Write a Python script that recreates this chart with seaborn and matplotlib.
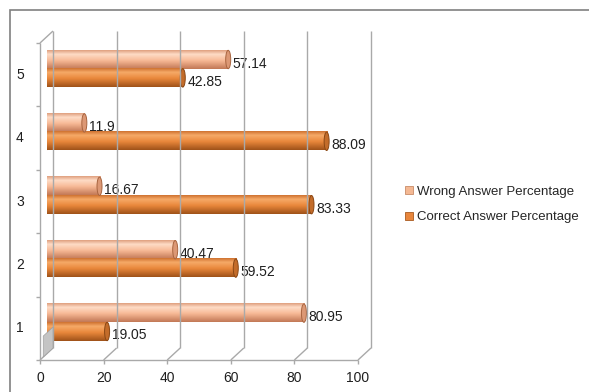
import numpy as np
import pandas as pd
import matplotlib
matplotlib.use("Agg")
import matplotlib.pyplot as plt
import seaborn as sns
from matplotlib.colors import LinearSegmentedColormap
from matplotlib.lines import Line2D
from matplotlib.patches import Ellipse, Patch, Polygon, Rectangle
from matplotlib.transforms import IdentityTransform

# ---- data -------------------------------------------------------------
questions = ["1", "2", "3", "4", "5"]
wrong_pct = [80.95, 40.47, 16.67, 11.9, 57.14]
correct_pct = [19.05, 59.52, 83.33, 88.09, 42.85]
series_names = ["Wrong Answer Percentage", "Correct Answer Percentage"]
x_ticks = [0, 20, 40, 60, 80, 100]

sns.set_theme(style="white")
plt.rcParams["font.family"] = ["Liberation Sans", "DejaVu Sans"]

DPI = 100
W, H = 589, 392
fig = plt.figure(figsize=(W / DPI, H / DPI), dpi=DPI)
fig.patch.set_facecolor("white")

# axes box = the mid-depth plane the cylinders sit in (pixels from top-left)
left_px, right_px, top_px, bottom_px = 46.5, 364.5, 37.0, 354.0
ax = fig.add_axes([left_px / W, 1 - bottom_px / H,
                   (right_px - left_px) / W, (bottom_px - top_px) / H])

df = pd.DataFrame({
    "question": questions * 2,
    "series": [series_names[0]] * len(questions) + [series_names[1]] * len(questions),
    "value": wrong_pct + correct_pct,
})
order = questions[::-1]

sns.barplot(data=df, x="value", y="question", hue="series", order=order,
            hue_order=series_names, orient="h", width=0.58, dodge=True,
            palette=["#f2b08c", "#e8863c"], saturation=1, linewidth=0,
            errorbar=None, legend=False, ax=ax)
ax.set_xlim(0, 100)
ax.set_ylim(len(order) - 0.5, -0.5)
ax.axis("off")

# ---- 3-D frame: front / back planes are shifted from the mid plane -----
DX, DY = 6.5, 6.0
YB, YT = len(order) - 0.5, -0.5


def px(x, y, depth):
    """display coords of a data point; depth -1 front, 0 mid, +1 back"""
    X, Y = ax.transData.transform((x, y))
    return X + depth * DX, Y + depth * DY


grid_c = "#a9a9a9"


def seg(p, q, color=grid_c, lw=1.0):
    fig.add_artist(Line2D([p[0], q[0]], [p[1], q[1]],
                          transform=IdentityTransform(), color=color, lw=lw,
                          solid_capstyle="butt", zorder=1))


# back-wall gridlines and floor diagonals
for v in x_ticks:
    seg(px(v, YB, 1), px(v, YT, 1))
    seg(px(v, YB, -1), px(v, YB, 1))
    p = px(v, YB, -1)
    seg(p, (p[0], p[1] - 4))
    fig.text(p[0] / W, (p[1] - 18.5) / H, f"{v}", ha="center", va="center",
             fontsize=10, color="#1f1f1f")

# front x axis
seg(px(0, YB, -1), px(100, YB, -1))
# left wall
seg(px(0, YT, -1), px(0, YB, -1))
seg(px(0, YT, -1), px(0, YT, 1))
for b in np.arange(-0.5, len(order)):
    p = px(0, b, -1)
    seg((p[0] - 4, p[1]), p)

# category labels, centred on the front-plane bands
for i, q in enumerate(order):
    p = px(0, i, -1)
    fig.text((p[0] - 20) / W, p[1] / H, q, ha="center", va="center",
             fontsize=10, color="#1f1f1f")

# small shaded floor sliver at the lower left corner
sliver = [px(0, YB, -0.5), px(0, YB - 0.33, -0.5), px(0, YB - 0.33, 1), px(0, YB, 1)]
fig.add_artist(Polygon(sliver, closed=True, transform=IdentityTransform(),
                       facecolor="#c4c4c4", edgecolor="#a0a0a0", lw=0.5, zorder=1))

# ---- cylinder shading ---------------------------------------------------
cmaps = [
    LinearSegmentedColormap.from_list(
        "wrong", [(0, "#e0a07f"), (0.22, "#fedcc6"), (0.55, "#f7b996"), (1, "#c27856")]),
    LinearSegmentedColormap.from_list(
        "correct", [(0, "#cf7230"), (0.22, "#f6aa68"), (0.55, "#e9873b"), (1, "#9f5219")]),
]
cap_edges = ["#a8643f", "#8a4714"]
grad = np.linspace(0, 1, 64).reshape(-1, 1)
cap_w = 5.0 / (ax.transData.transform((1, 0))[0] - ax.transData.transform((0, 0))[0])

for cont, cmap, edge in zip(ax.containers, cmaps, cap_edges):
    for patch in cont.patches:
        x0, w = patch.get_x(), patch.get_width()
        y0, h = patch.get_y(), patch.get_height()
        x1, yc = x0 + w, y0 + h / 2
        patch.set_visible(False)
        # rounded left end
        ax.add_patch(Ellipse((x0, yc), cap_w, h, facecolor=cmap(0.5),
                             edgecolor="none", zorder=2.9))
        # body
        ax.imshow(grad, cmap=cmap, extent=[x0, x1, y0 + h, y0], origin="upper",
                  aspect="auto", interpolation="bilinear", zorder=3)
        # end cap
        ax.add_patch(Ellipse((x1, yc), cap_w, h, facecolor=cmap(0.78),
                             edgecolor=edge, lw=0.7, zorder=4))
        ax.annotate(f"{w:g}", xy=(x1, yc), xytext=(4.5, -4),
                    textcoords="offset pixels", ha="left", va="center",
                    fontsize=10, color="#1f1f1f", zorder=5)

ax.set_xlim(0, 100)
ax.set_ylim(YB, YT)

# ---- legend ------------------------------------------------------------
handles = [Patch(facecolor="#f4b893", edgecolor="#c98b68", lw=0.6),
           Patch(facecolor="#e8863c", edgecolor="#a85a20", lw=0.6)]
fig.legend(handles, series_names, loc="center left",
           bbox_to_anchor=(405 / W, 1 - 204.5 / H), frameon=False, fontsize=9.5,
           handlelength=0.58, handleheight=0.58, handletextpad=0.35,
           labelspacing=1.05, borderpad=0, borderaxespad=0)

# outer chart border (runs off the right and bottom edges)
fig.add_artist(Rectangle((9.5, -10), W + 10, H - 9.5 + 10,
                         transform=IdentityTransform(), fill=False,
                         edgecolor="#808080", lw=1.2, zorder=0))

fig.savefig("out.png", dpi=DPI)
